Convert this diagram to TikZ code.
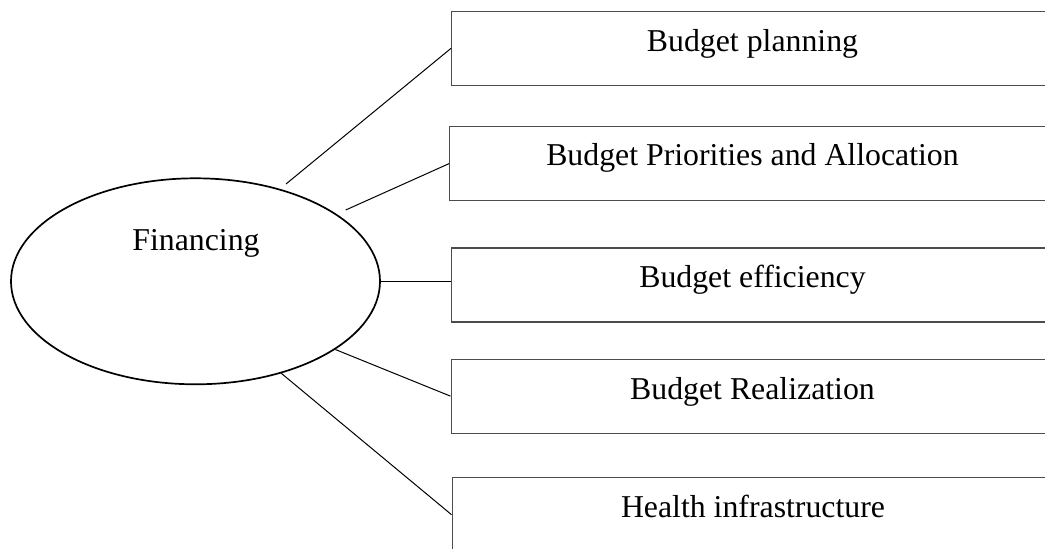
\documentclass[tikz,border=0pt]{standalone}
\usepackage{fontspec}
\setmainfont{Liberation Serif}
\usetikzlibrary{shapes.geometric,calc}
\begin{document}
\begin{tikzpicture}[x=1pt,y=-1pt,
  every node/.style={font=\fontsize{31.8}{38}\selectfont},
  hub/.style={ellipse, draw=black, line width=1.7pt, minimum width=369pt,
    minimum height=206pt, inner sep=0pt},
  itembox/.style={rectangle, draw=black!70, line width=1.3pt, minimum width=640pt,
    minimum height=74pt, inner sep=0pt, anchor=north west},
  itemtext/.style={anchor=base, inner sep=0pt},
  link/.style={draw=black, line width=1pt}]
  % page frame; the boxes run off the right and bottom edges
  \useasboundingbox (0,0) rectangle (1045,549);
  \clip (0,0) rectangle (1045,549);

  % central ellipse
  \node[hub] (fin) at (195.5,281.3) {};
  \node[itemtext] (fint) at (196,250) {Financing};

  % item boxes with their labels
  \node[itembox] (b1) at (451,10.7) {};
  \node[itemtext] (t1) at ($(b1.north west)+(301.5,40.5)$) {Budget planning};
  \node[itembox] (b2) at (449,126) {};
  \node[itemtext] (t2) at ($(b2.north west)+(303.5,39.7)$) {Budget Priorities and Allocation};
  \node[itembox] (b3) at (450.5,247.3) {};
  \node[itemtext] (t3) at ($(b3.north west)+(302,40.4)$) {Budget efficiency};
  \node[itembox] (b4) at (450.5,358.5) {};
  \node[itemtext] (t4) at ($(b4.north west)+(302,40.6)$) {Budget Realization};
  \node[itembox] (b5) at (451.5,477) {};
  \node[itemtext] (t5) at ($(b5.north west)+(301.5,40.7)$) {Health infrastructure};

  % connectors
  \coordinate (s1) at (286,184);
  \coordinate (s2) at (345.7,210);
  \draw[link] (s1) -- (b1.west);
  \draw[link] (s2) -- (b2.west);
  \draw[link] (fin.east) -- (fin.east -| b3.west);
  \draw[link] (fin.-26) -- (b4.west);
  \draw[link] (fin.-47) -- (b5.west);
\end{tikzpicture}
\end{document}
